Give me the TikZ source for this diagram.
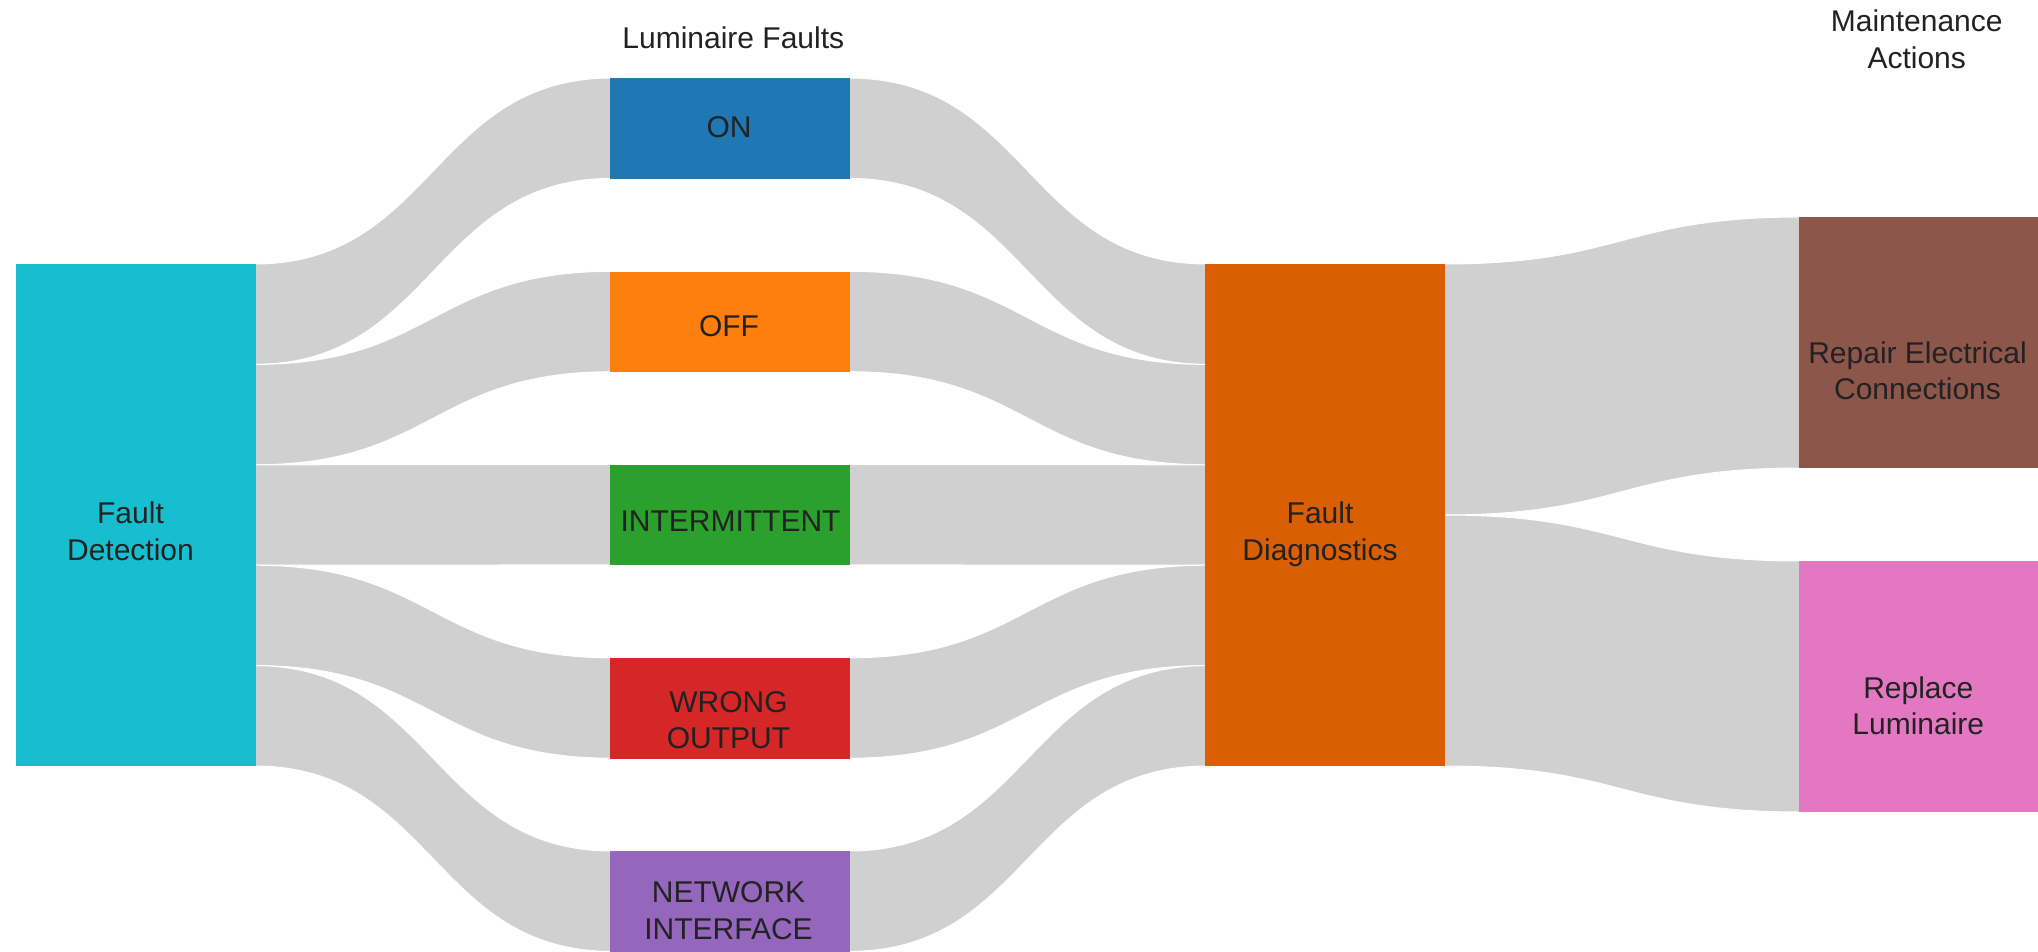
\documentclass[tikz,border=0pt]{standalone}
\usepackage{fontspec}
\setmainfont{Liberation Sans}
\usetikzlibrary{calc}

\definecolor{linkgray}{RGB}{208,208,208}
\definecolor{labelink}{RGB}{34,34,34}
\definecolor{cDetect}{HTML}{17BECF}
\definecolor{cOn}{HTML}{1F77B4}
\definecolor{cOff}{HTML}{FF7F0E}
\definecolor{cInter}{HTML}{2CA02C}
\definecolor{cWrong}{HTML}{D62728}
\definecolor{cNet}{HTML}{9467BD}
\definecolor{cDiag}{HTML}{D95F02}
\definecolor{cRepair}{HTML}{8C564B}
\definecolor{cReplace}{HTML}{E377C2}

\pgfdeclarelayer{flows}
\pgfsetlayers{flows,main}

% band from #1 (offset #2 px below its top) to #3 (offset #4 px), #5 px thick;
% the ends reach 1pt into the boxes, which are drawn over them
\newcommand\flowband[5]{%
  \path[flow] let \p1=([xshift=-1pt,yshift={-(#2)*0.5pt}]#1.north east),
                  \p2=([xshift=1pt,yshift={-(#4)*0.5pt}]#3.north west),
                  \p3=([xshift=-1pt,yshift={-(#2+#5)*0.5pt}]#1.north east),
                  \p4=([xshift=1pt,yshift={-(#4+#5)*0.5pt}]#3.north west) in
    (\p1) .. controls ({(\x1+\x2)/2},\y1) and ({(\x1+\x2)/2},\y2) .. (\p2)
    -- (\p4) .. controls ({(\x1+\x2)/2},\y4) and ({(\x1+\x2)/2},\y3) .. (\p3)
    -- cycle;}

\begin{document}
\begin{tikzpicture}[x=0.5pt,y=-0.5pt,
  stage/.style={rectangle,draw=none,inner sep=0pt,anchor=north west,
    minimum width=120pt},
  unitbox/.style={stage,minimum height=50.2pt},
  bigbox/.style={stage,minimum height=251pt},
  midbox/.style={stage,minimum height=125.5pt},
  txt/.style={inner sep=0pt,align=center,text=labelink,
    font=\fontsize{15pt}{18.3pt}\selectfont},
  flow/.style={fill=linkgray,draw=white,line width=0.5pt}]

\useasboundingbox (0,0) rectangle (2038,952);

% source stage
\node[bigbox,fill=cDetect] (fd) at (15.5,264) {};
% fault classes
\node[unitbox,fill=cOn]    (on)    at (610,78) {};
\node[unitbox,fill=cOff]   (off)   at (610,271.3) {};
\node[unitbox,fill=cInter] (inter) at (610,464.5) {};
\node[unitbox,fill=cWrong] (wrong) at (610,657.8) {};
\node[unitbox,fill=cNet]   (net)   at (610,851) {};
% diagnostics
\node[bigbox,fill=cDiag] (diag) at (1205,264) {};
% maintenance actions
\node[midbox,fill=cRepair]  (repair)  at (1799,217) {};
\node[midbox,fill=cReplace] (replace) at (1799,561) {};

\begin{pgfonlayer}{flows}
  \fill[white] (0,0) rectangle (2038,952);
  \flowband{fd}{0}{on}{0}{100.4}
  \flowband{fd}{100.4}{off}{0}{100.4}
  \flowband{fd}{200.8}{inter}{0}{100.4}
  \flowband{fd}{301.2}{wrong}{0}{100.4}
  \flowband{fd}{401.6}{net}{0}{100.4}
  \flowband{on}{0}{diag}{0}{100.4}
  \flowband{off}{0}{diag}{100.4}{100.4}
  \flowband{inter}{0}{diag}{200.8}{100.4}
  \flowband{wrong}{0}{diag}{301.2}{100.4}
  \flowband{net}{0}{diag}{401.6}{100.4}
  \flowband{diag}{0}{repair}{0}{251}
  \flowband{diag}{251}{replace}{0}{251}
\end{pgfonlayer}

% labels
\node[txt] (fdL)      at (130.5,531)  {Fault\\Detection};
\node[txt] (onL)      at (729,127.6)  {ON};
\node[txt] (offL)     at (729,326)    {OFF};
\node[txt] (interL)   at (730.5,521.4){INTERMITTENT};
\node[txt] (wrongL)   at (728.5,720)  {WRONG\\OUTPUT};
\node[txt] (netL)     at (728.5,910.7){NETWORK\\INTERFACE};
\node[txt] (diagL)    at (1320,534)   {Fault\\Diagnostics};
\node[txt] (repairL)  at (1917.5,370.7){Repair Electrical\\Connections};
\node[txt] (replaceL) at (1918.3,705.7){Replace\\Luminaire};

% column titles
\node[txt] (title1) at (733.3,37.4) {Luminaire Faults};
\node[txt] (title2) at (1916.7,39)  {Maintenance\\Actions};
\end{tikzpicture}
\end{document}
